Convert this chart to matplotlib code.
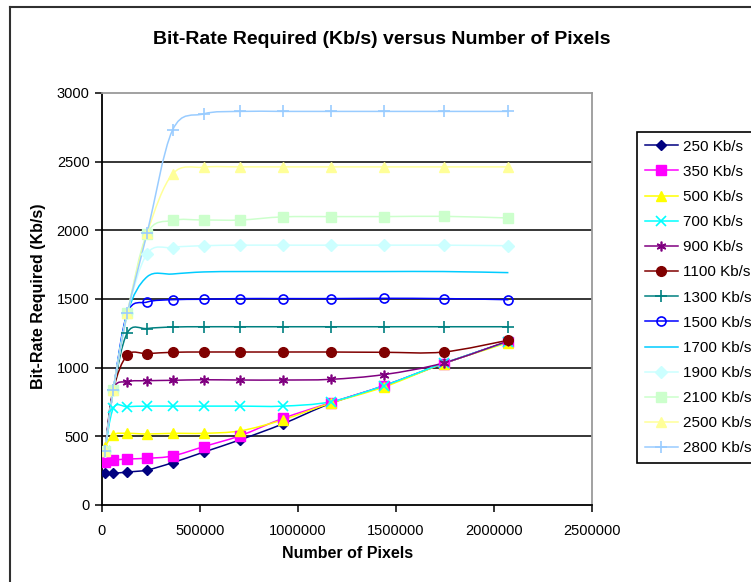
import matplotlib
matplotlib.use("Agg")
import matplotlib.pyplot as plt
from matplotlib.path import Path
from matplotlib.patches import PathPatch
from matplotlib.lines import Line2D
import numpy as np

plt.rcParams['font.family'] = ['Liberation Sans', 'DejaVu Sans']

# Image sizes (16:9 frames, width x height) in pixels
num_pixels = [14400, 57600, 129600, 230400, 360000, 518400, 705600,
              921600, 1166400, 1440000, 1742400, 2073600]

# Required bit-rate (Kb/s) for each target rate
r250 = [230, 231, 240, 255, 308, 385, 475, 590, 740, 868, 1030, 1190]
r350 = [315, 326, 335, 340, 357, 425, 505, 630, 745, 870, 1030, 1190]
r500 = [420, 512, 522, 517, 522, 522, 540, 620, 742, 860, 1030, 1183]
r700 = [390, 704, 716, 720, 720, 720, 720, 720, 752, 870, 1032, 1190]
r900 = [390, 837, 898, 905, 908, 912, 910, 910, 915, 950, 1034, 1195]
r1100 = [390, 837, 1092, 1102, 1112, 1114, 1114, 1114, 1114, 1112, 1114, 1200]
r1300 = [390, 837, 1255, 1285, 1296, 1298, 1298, 1298, 1298, 1298, 1298, 1298]
r1500 = [390, 837, 1398, 1478, 1495, 1498, 1503, 1503, 1503, 1505, 1503, 1495]
r1700 = [390, 837, 1398, 1662, 1682, 1697, 1700, 1700, 1700, 1700, 1700, 1692]
r1900 = [390, 837, 1398, 1830, 1875, 1888, 1892, 1892, 1892, 1892, 1892, 1888]
r2100 = [390, 837, 1398, 1975, 2072, 2075, 2075, 2098, 2100, 2100, 2102, 2090]
r2500 = [390, 837, 1398, 1980, 2410, 2460, 2462, 2462, 2462, 2462, 2462, 2462]
r2800 = [390, 837, 1398, 1981, 2730, 2848, 2866, 2866, 2866, 2866, 2866, 2866]

series_labels = ["250 Kb/s", "350 Kb/s", "500 Kb/s", "700 Kb/s", "900 Kb/s",
                 "1100 Kb/s", "1300 Kb/s", "1500 Kb/s", "1700 Kb/s",
                 "1900 Kb/s", "2100 Kb/s", "2500 Kb/s", "2800 Kb/s"]
series_values = [r250, r350, r500, r700, r900, r1100, r1300, r1500, r1700,
                 r1900, r2100, r2500, r2800]

x_ticks = [0, 500000, 1000000, 1500000, 2000000, 2500000]
y_ticks = [0, 500, 1000, 1500, 2000, 2500, 3000]

# line colour, marker, marker size, marker face, marker edge width
styles = [
    ("#000080", "D", 5.5, "#000080", 1.0),
    ("#FF00FF", "s", 6.5, "#FF00FF", 1.0),
    ("#FFFF00", "^", 7.0, "#FFFF00", 1.0),
    ("#00FFFF", "x", 6.5, "#00FFFF", 1.2),
    ("#800080", (6, 2, 0), 7.0, "#800080", 1.2),
    ("#800000", "o", 7.0, "#800000", 1.0),
    ("#008080", "+", 8.0, "#008080", 1.2),
    ("#0000FF", "o", 6.5, "none", 1.2),
    ("#00CCFF", None, 0, "none", 1.0),
    ("#CCFFFF", "D", 6.5, "#CCFFFF", 1.0),
    ("#CCFFCC", "s", 7.0, "#CCFFCC", 1.0),
    ("#FFFF99", "^", 7.5, "#FFFF99", 1.0),
    ("#99CCFF", "+", 9.0, "#99CCFF", 1.2),
]


def smooth_path(xs, ys):
    """Bezier path through the points with Catmull-Rom style control points."""
    pts = np.column_stack([xs, ys]).astype(float)
    n = len(pts)
    verts = [pts[0]]
    codes = [Path.MOVETO]
    for i in range(n - 1):
        p0 = pts[i - 1] if i > 0 else pts[i]
        p1 = pts[i]
        p2 = pts[i + 1]
        p3 = pts[i + 2] if i + 2 < n else pts[i + 1]
        c1 = p1 + (p2 - p0) / 6.0
        c2 = p2 - (p3 - p1) / 6.0
        verts += [c1, c2, p2]
        codes += [Path.CURVE4] * 3
    return Path(verts, codes)


fig = plt.figure(figsize=(7.51, 5.82), dpi=100)
W, H = 751, 582
ax = fig.add_axes([102 / W, (H - 505) / H, 490 / W, 412 / H])

handles = []
for vals, lab, (col, mk, ms, mfc, mew) in zip(series_values, series_labels, styles):
    patch = PathPatch(smooth_path(num_pixels, vals), fill=False,
                      edgecolor=col, lw=1.1, zorder=3)
    ax.add_patch(patch)
    if mk is not None:
        ax.plot(num_pixels, vals, linestyle="none", marker=mk, ms=ms,
                mfc=mfc, mec=col, mew=mew, zorder=4)
    handles.append(Line2D([], [], color=col, lw=1.1, marker=mk, ms=ms,
                          mfc=mfc, mec=col, mew=mew, label=lab))

ax.set_xlim(0, 2500000)
ax.set_ylim(0, 3000)
ax.set_xticks(x_ticks)
ax.set_yticks(y_ticks)
ax.set_xticklabels([str(v) for v in x_ticks])
ax.set_yticklabels([str(v) for v in y_ticks])
ax.tick_params(axis="both", direction="out", length=5, width=1.1,
               labelsize=10.5, colors="black", pad=4)
ax.tick_params(axis="x", pad=8.5)

for yv in y_ticks[1:-1]:
    ax.axhline(yv, color="black", lw=1.1, zorder=1)

ax.spines["left"].set_color("black")
ax.spines["bottom"].set_color("black")
ax.spines["left"].set_linewidth(1.3)
ax.spines["bottom"].set_linewidth(1.3)
ax.spines["top"].set_color("#9a9a9a")
ax.spines["right"].set_color("#9a9a9a")
ax.spines["top"].set_linewidth(1.3)
ax.spines["right"].set_linewidth(1.3)

ax.set_xlabel("Number of Pixels", fontsize=11.5, fontweight="bold")
ax.set_ylabel("Bit-Rate Required (Kb/s)", fontsize=11.5, fontweight="bold")
ax.xaxis.set_label_coords((348 - 102) / 490, (505 - 546) / 412)
ax.yaxis.set_label_coords((46 - 102) / 490, 0.507)

fig.text(382 / W, 1 - 40 / H, "Bit-Rate Required (Kb/s) versus Number of Pixels",
         ha="center", va="center", fontsize=14, fontweight="bold")

# chart area frame
fig.add_artist(Line2D([10 / W, 10 / W], [0, 1 - 7 / H], transform=fig.transFigure,
                      color="#303030", lw=1.5))
fig.add_artist(Line2D([10 / W, 1], [1 - 7 / H, 1 - 7 / H], transform=fig.transFigure,
                      color="#303030", lw=1.5))

leg = fig.legend(handles=handles, loc="upper left",
                 bbox_to_anchor=(637 / W, 1 - 132 / H),
                 bbox_transform=fig.transFigure, borderaxespad=0,
                 fontsize=11, frameon=True, fancybox=False,
                 edgecolor="black", framealpha=1, labelspacing=0.73,
                 handlelength=2.2, handletextpad=0.3, borderpad=0.5)
leg.get_frame().set_linewidth(1.2)

fig.savefig("out.png", dpi=100)
